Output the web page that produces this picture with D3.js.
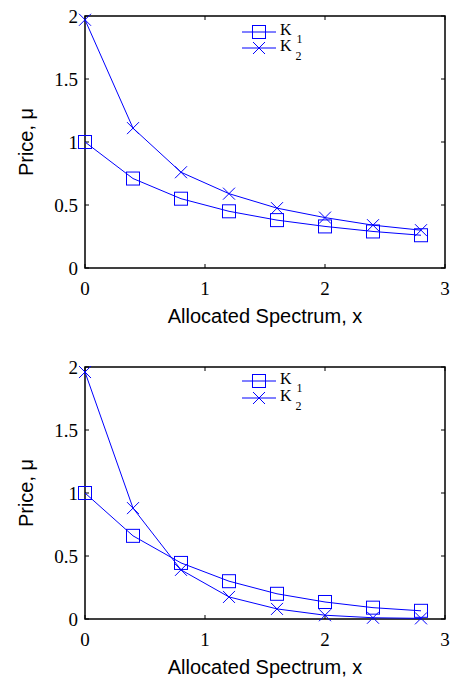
<!DOCTYPE html>
<html><head><meta charset="utf-8">
<script src="https://cdn.jsdelivr.net/npm/d3@7"></script>
<style>body{margin:0;background:#fff}svg{display:block}
.serif{font-family:"Liberation Serif","Times New Roman",serif}
.sans{font-family:"Liberation Sans",Arial,sans-serif}
</style>
</head><body>
<svg id="c" width="452" height="684"></svg>
<script>
const xValues = [0, 0.4, 0.8, 1.2, 1.6, 2.0, 2.4, 2.8];
const topK1 = [1.0, 0.71, 0.55, 0.45, 0.38, 0.33, 0.29, 0.26];
const topK2 = [1.97, 1.11, 0.76, 0.59, 0.475, 0.40, 0.34, 0.30];
const botK1 = [1.0, 0.66, 0.445, 0.30, 0.20, 0.135, 0.09, 0.065];
const botK2 = [1.96, 0.88, 0.39, 0.175, 0.08, 0.03, 0.01, 0.005];
const xTicks = [0, 1, 2, 3];
const yTicks = [0, 0.5, 1, 1.5, 2];
const xLabel = "Allocated Spectrum, x";
const yLabel = "Price, μ";

const svg = d3.select("#c");
const blue = "#0000ff";

function panel(top, k1, k2, legendDy) {
  const left = 85, right = 445, h = 252;
  const g = svg.append("g");
  const x = d3.scaleLinear().domain([0, 3]).range([left, right]);
  const y = d3.scaleLinear().domain([0, 2]).range([top + h, top]);

  g.append("rect").attr("x", left).attr("y", top).attr("width", right - left).attr("height", h)
    .attr("fill", "none").attr("stroke", "#000").attr("stroke-width", 1.5);

  const tl = 4;
  xTicks.forEach(t => {
    g.append("line").attr("x1", x(t)).attr("x2", x(t)).attr("y1", top + h).attr("y2", top + h - tl).attr("stroke", "#000");
    g.append("line").attr("x1", x(t)).attr("x2", x(t)).attr("y1", top).attr("y2", top + tl).attr("stroke", "#000");
    g.append("text").attr("class", "serif").attr("x", x(t)).attr("y", top + h + 27).attr("text-anchor", "middle")
      .attr("font-size", 19).text(t);
  });
  yTicks.forEach(t => {
    g.append("line").attr("x1", left).attr("x2", left + tl).attr("y1", y(t)).attr("y2", y(t)).attr("stroke", "#000");
    g.append("line").attr("x1", right).attr("x2", right - tl).attr("y1", y(t)).attr("y2", y(t)).attr("stroke", "#000");
    g.append("text").attr("class", "serif").attr("x", 78).attr("y", y(t) + 7).attr("text-anchor", "end")
      .attr("font-size", 19).text(t);
  });

  g.append("text").attr("class", "sans").attr("x", 265).attr("y", top + h + 55).attr("text-anchor", "middle")
    .attr("font-size", 20).text(xLabel);
  g.append("text").attr("class", "sans").attr("transform", `translate(33,${top + h / 2}) rotate(-90)`).attr("text-anchor", "middle")
    .attr("font-size", 20).text(yLabel);

  const line = d3.line().x((d, i) => x(xValues[i])).y(d => y(d));
  [k1, k2].forEach(s => {
    g.append("path").attr("d", line(s)).attr("fill", "none").attr("stroke", blue).attr("stroke-width", 1);
  });
  const ms = 13;
  k1.forEach((v, i) => {
    g.append("rect").attr("x", x(xValues[i]) - ms / 2).attr("y", y(v) - ms / 2).attr("width", ms).attr("height", ms)
      .attr("fill", "none").attr("stroke", blue).attr("stroke-width", 1);
  });
  const cs = 6;
  k2.forEach((v, i) => {
    const cx = x(xValues[i]), cy = y(v);
    g.append("path").attr("d", `M${cx - cs},${cy - cs}L${cx + cs},${cy + cs}M${cx - cs},${cy + cs}L${cx + cs},${cy - cs}`)
      .attr("stroke", blue).attr("stroke-width", 1).attr("fill", "none");
  });

  const lx1 = 242, lx2 = 276, lxm = (lx1 + lx2) / 2;
  const ly1 = top + legendDy[0], ly2 = top + legendDy[1];
  g.append("line").attr("x1", lx1).attr("x2", lx2).attr("y1", ly1).attr("y2", ly1).attr("stroke", blue);
  g.append("rect").attr("x", lxm - ms / 2).attr("y", ly1 - ms / 2).attr("width", ms).attr("height", ms)
    .attr("fill", "none").attr("stroke", blue);
  g.append("line").attr("x1", lx1).attr("x2", lx2).attr("y1", ly2).attr("y2", ly2).attr("stroke", blue);
  g.append("path").attr("d", `M${lxm - cs},${ly2 - cs}L${lxm + cs},${ly2 + cs}M${lxm - cs},${ly2 + cs}L${lxm + cs},${ly2 - cs}`)
    .attr("stroke", blue).attr("fill", "none");
  const t1 = g.append("text").attr("class", "serif").attr("x", 280).attr("y", ly1 + 3).attr("font-size", 16);
  t1.append("tspan").text("K");
  t1.append("tspan").attr("dy", 8).attr("dx", 5).attr("font-size", 12).text("1");
  const t2 = g.append("text").attr("class", "serif").attr("x", 280).attr("y", ly2 + 3).attr("font-size", 16);
  t2.append("tspan").text("K");
  t2.append("tspan").attr("dy", 9).attr("dx", 4).attr("font-size", 12).text("2");
}

panel(16, topK1, topK2, [16, 32]);
panel(367, botK1, botK2, [14, 31]);
</script>
</body></html>
